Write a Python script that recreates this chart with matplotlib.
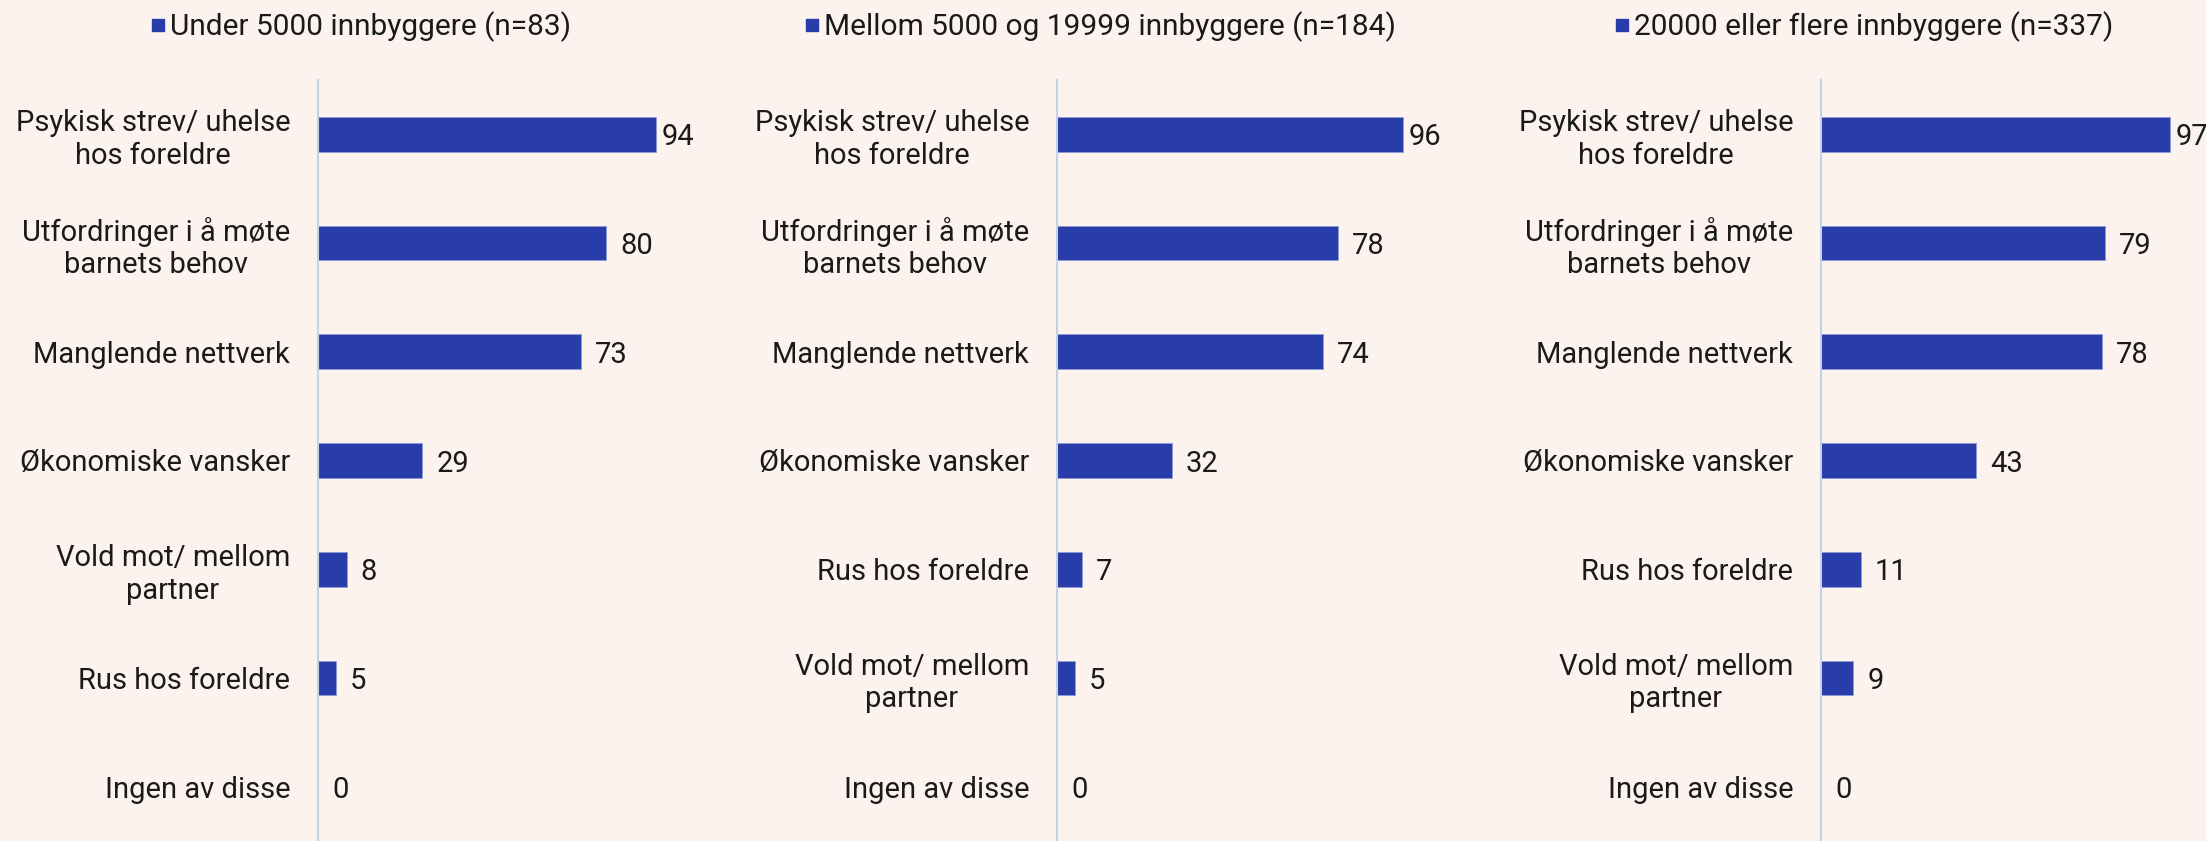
import matplotlib.pyplot as plt
from matplotlib.lines import Line2D

plt.rcParams["font.family"] = ["Roboto", "DejaVu Sans"]

BG = "#fcf3ee"
BAR = "#293da9"
AXLINE = "#c3d2e6"
TXT = "#1a1a1a"

titles = [
    "Under 5000 innbyggere (n=83)",
    "Mellom 5000 og 19999 innbyggere (n=184)",
    "20000 eller flere innbyggere (n=337)",
]

cats_1 = ["Psykisk strev/ uhelse\nhos foreldre", "Utfordringer i å møte\nbarnets behov",
          "Manglende nettverk", "Økonomiske vansker", "Vold mot/ mellom\npartner",
          "Rus hos foreldre", "Ingen av disse"]
vals_1 = [94, 80, 73, 29, 8, 5, 0]

cats_2 = ["Psykisk strev/ uhelse\nhos foreldre", "Utfordringer i å møte\nbarnets behov",
          "Manglende nettverk", "Økonomiske vansker", "Rus hos foreldre",
          "Vold mot/ mellom\npartner", "Ingen av disse"]
vals_2 = [96, 78, 74, 32, 7, 5, 0]

cats_3 = ["Psykisk strev/ uhelse\nhos foreldre", "Utfordringer i å møte\nbarnets behov",
          "Manglende nettverk", "Økonomiske vansker", "Rus hos foreldre",
          "Vold mot/ mellom\npartner", "Ingen av disse"]
vals_3 = [97, 79, 78, 43, 11, 9, 0]

panels = [(cats_1, vals_1), (cats_2, vals_2), (cats_3, vals_3)]

W, H = 2206, 841
fig = plt.figure(figsize=(W / 100, H / 100), dpi=100, facecolor=BG)

# axis x position (px) for each panel, legend centre (px)
ax_left = [318, 1057, 1821]
leg_x = [359, 1099, 1862]
ax_w = 360  # 100 units
ax_top, ax_bot = 80, 841

for i, (cats, vals) in enumerate(panels):
    ax = fig.add_axes([ax_left[i] / W, 1 - ax_bot / H, ax_w / W, (ax_bot - ax_top) / H])
    ax.set_facecolor("none")
    ypos = list(range(len(cats)))
    ax.barh(ypos, vals, height=0.32, color=BAR, edgecolor="#8c9ad6", linewidth=0.6)
    ax.set_ylim(len(cats) - 0.5, -0.5)
    ax.set_xlim(0, 100)
    ax.set_yticks(ypos)
    ax.set_yticklabels(cats, fontsize=21, color=TXT, multialignment="center")
    ax.tick_params(axis="y", length=0, pad=20)
    ax.set_xticks([])
    for s in ["top", "right", "bottom"]:
        ax.spines[s].set_visible(False)
    ax.spines["left"].set_color(AXLINE)
    ax.spines["left"].set_linewidth(1.5)
    for y, v in zip(ypos, vals):
        off = 4 if v > 90 else 10
        ax.annotate(str(v), (v, y), xytext=(off, 0), textcoords="offset points",
                    va="center_baseline", ha="left", fontsize=21, color=TXT, clip_on=False)

    handle = Line2D([], [], marker="s", linestyle="", color=BAR, markersize=8)
    fig.legend([handle], [titles[i]], loc="center", bbox_to_anchor=(leg_x[i] / W, 1 - 27 / H),
               frameon=False, fontsize=21.5, handletextpad=0.05, handlelength=0.7,
               labelcolor=TXT)

fig.savefig("out.png", dpi=100, facecolor=BG)
